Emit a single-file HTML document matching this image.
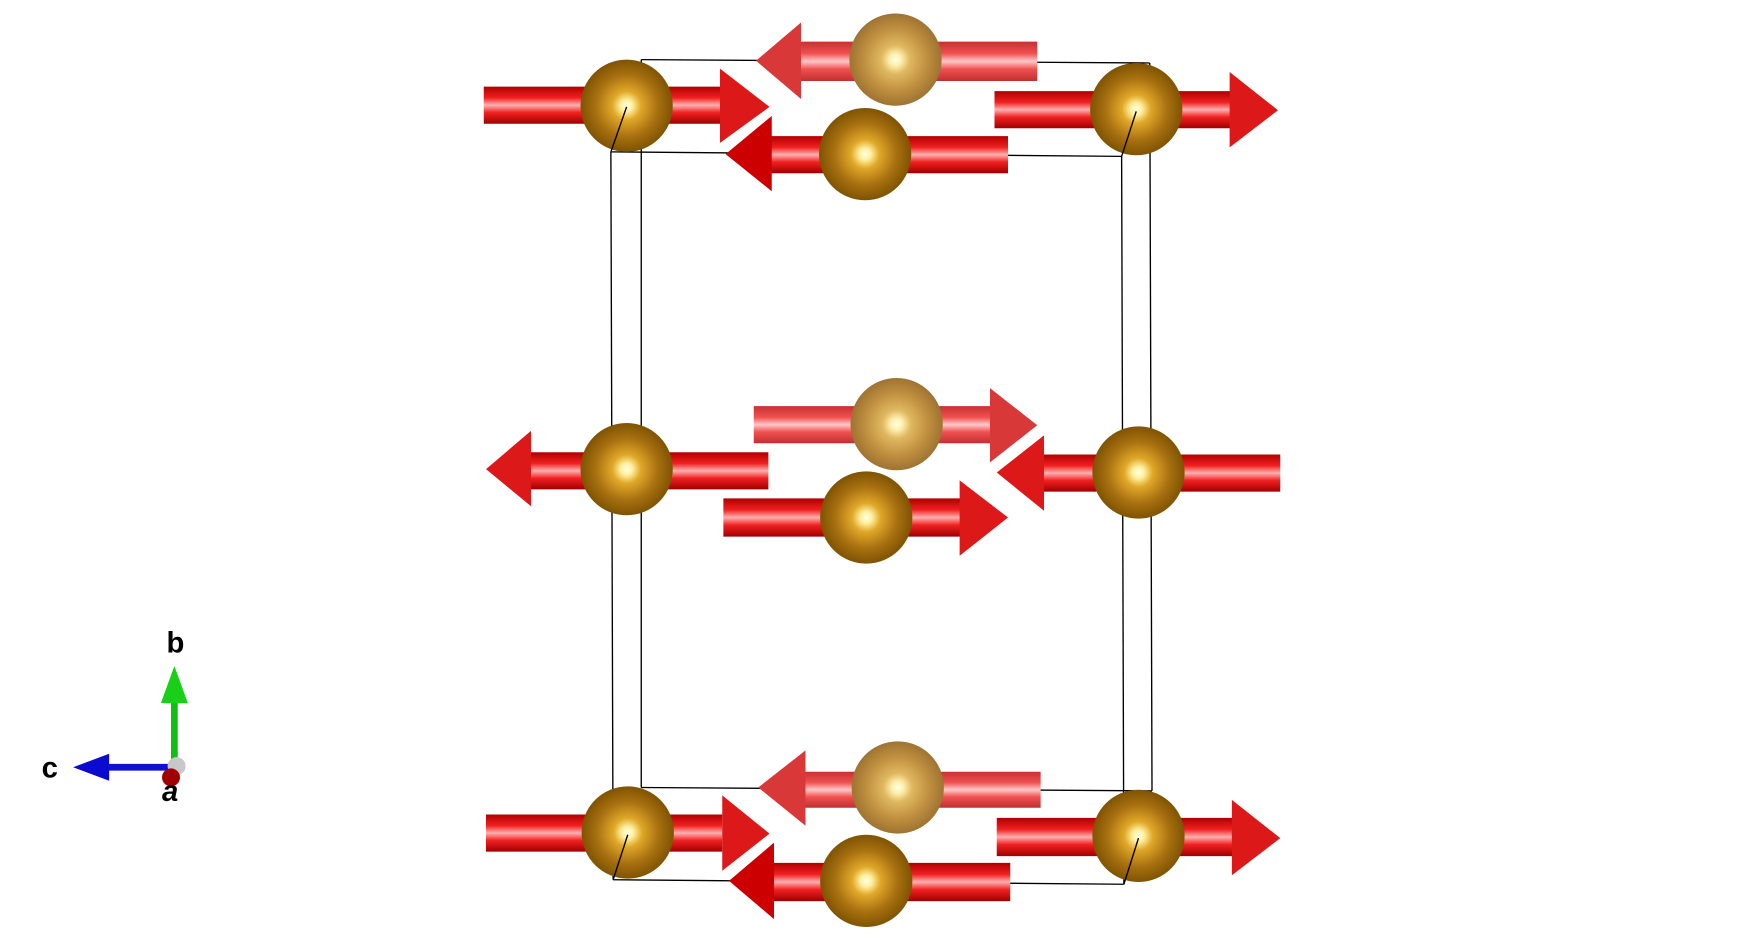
<!DOCTYPE html>
<html><head><meta charset="utf-8"><style>html,body{margin:0;padding:0;background:#fff;overflow:hidden}svg{display:block}</style></head><body>
<svg width="1764" height="944" viewBox="0 0 1568 839.1" xmlns="http://www.w3.org/2000/svg">
<defs>
<radialGradient id="sf" cx="50%" cy="50%" r="52%"><stop offset="0" stop-color="#ffffe8"/><stop offset="0.12" stop-color="#fff0a0"/><stop offset="0.3" stop-color="#e0a828"/><stop offset="0.65" stop-color="#a87010"/><stop offset="1" stop-color="#7a5000"/></radialGradient>
<radialGradient id="sb" cx="50%" cy="50%" r="52%"><stop offset="0" stop-color="#ffffe8"/><stop offset="0.12" stop-color="#fff0b0"/><stop offset="0.3" stop-color="#e0b860"/><stop offset="0.65" stop-color="#c09040"/><stop offset="1" stop-color="#9a7030"/></radialGradient>
<linearGradient id="rf" x1="0" y1="0" x2="0" y2="1"><stop offset="0" stop-color="#b00000"/><stop offset="0.3" stop-color="#f02020"/><stop offset="0.5" stop-color="#ffb0b0"/><stop offset="0.7" stop-color="#f02020"/><stop offset="1" stop-color="#a00000"/></linearGradient>
<linearGradient id="rb" x1="0" y1="0" x2="0" y2="1"><stop offset="0" stop-color="#c83030"/><stop offset="0.3" stop-color="#f05050"/><stop offset="0.5" stop-color="#ffc8c8"/><stop offset="0.7" stop-color="#f05050"/><stop offset="1" stop-color="#c03030"/></linearGradient>
</defs>
<g stroke="#000" stroke-width="1.2" fill="none">
<line x1="570" y1="53" x2="1022" y2="56"/><line x1="570" y1="700" x2="1024" y2="703"/>
<line x1="570" y1="53" x2="570" y2="700"/><line x1="1022" y1="56" x2="1024" y2="703"/>
</g>
<g>
<rect x="710" y="37" width="212" height="35" fill="url(#rb)"/><polygon points="712,20 712,88 672,54" fill="#d83838"/><circle cx="796" cy="53" r="41" fill="url(#sb)"/>
<rect x="670" y="361" width="212" height="33" fill="url(#rb)"/><polygon points="880,345 880,411 922,378" fill="#d83838"/><circle cx="797" cy="377" r="41" fill="url(#sb)"/>
<rect x="714" y="686" width="211" height="32" fill="url(#rb)"/><polygon points="716,667 716,734 674,700" fill="#d83838"/><circle cx="798" cy="700" r="41" fill="url(#sb)"/>
</g>
<g stroke="#000" stroke-width="1.2" fill="none">
<line x1="543" y1="135" x2="997" y2="139"/><line x1="545" y1="782" x2="999" y2="786"/>
<line x1="543" y1="135" x2="545" y2="782"/><line x1="997" y1="139" x2="999" y2="786"/>
</g>
<g>
<rect x="430" y="77" width="212" height="33" fill="url(#rf)"/><polygon points="640,61 640,127 684,95" fill="#dd1818"/><circle cx="557" cy="94" r="41" fill="url(#sf)"/>
<rect x="685" y="121" width="211" height="33" fill="url(#rf)"/><polygon points="686,103 686,170 645,137" fill="#cc0000"/><circle cx="769" cy="137" r="41" fill="url(#sf)"/>
<rect x="884" y="81" width="211" height="33" fill="url(#rf)"/><polygon points="1093,64 1093,131 1136,98" fill="#dd1818"/><circle cx="1010" cy="97" r="41" fill="url(#sf)"/>

<rect x="470" y="402" width="213" height="33" fill="url(#rf)"/><polygon points="472,383 472,450 432,417" fill="#dd1818"/><circle cx="557" cy="417" r="41" fill="url(#sf)"/>
<rect x="643" y="443" width="212" height="34" fill="url(#rf)"/><polygon points="853,427 853,494 896,460" fill="#dd1818"/><circle cx="770" cy="460" r="41" fill="url(#sf)"/>
<rect x="926" y="404" width="212" height="33" fill="url(#rf)"/><polygon points="928,387 928,454 886,420" fill="#dd1818"/><circle cx="1012" cy="420" r="41" fill="url(#sf)"/>

<rect x="432" y="724" width="210" height="33" fill="url(#rf)"/><polygon points="642,707 642,774 684,741" fill="#dd1818"/><circle cx="558" cy="740" r="41" fill="url(#sf)"/>
<rect x="688" y="767" width="210" height="34" fill="url(#rf)"/><polygon points="688,749 688,817 648,783" fill="#cc0000"/><circle cx="770" cy="783" r="41" fill="url(#sf)"/>
<rect x="886" y="727" width="211" height="34" fill="url(#rf)"/><polygon points="1095,711 1095,778 1138,745" fill="#dd1818"/><circle cx="1012" cy="743" r="41" fill="url(#sf)"/>
</g>
<g stroke="#000" stroke-width="1.2">
<line x1="557" y1="95" x2="543" y2="135"/><line x1="1010" y1="99" x2="997" y2="139"/>
<line x1="558" y1="742" x2="545" y2="782"/><line x1="1012" y1="745" x2="999" y2="786"/>
</g>
<rect x="152" y="622" width="6" height="56" fill="#10c010"/><polygon points="143,625 167,625 155,592" fill="#18d018"/>
<rect x="95" y="679" width="60" height="6" fill="#1010d0"/><polygon points="97,670 97,694 65,682" fill="#0a0ad0"/>
<circle cx="157" cy="681" r="8" fill="#c8c8c8"/><circle cx="152" cy="691" r="8" fill="#a00000"/>
<g font-family="Liberation Sans, sans-serif" font-weight="bold" font-size="26" fill="#000">
<text x="148" y="580">b</text><text x="37" y="691">c</text><text x="144" y="712" font-style="italic">a</text>
</g>
</svg>
</body></html>
